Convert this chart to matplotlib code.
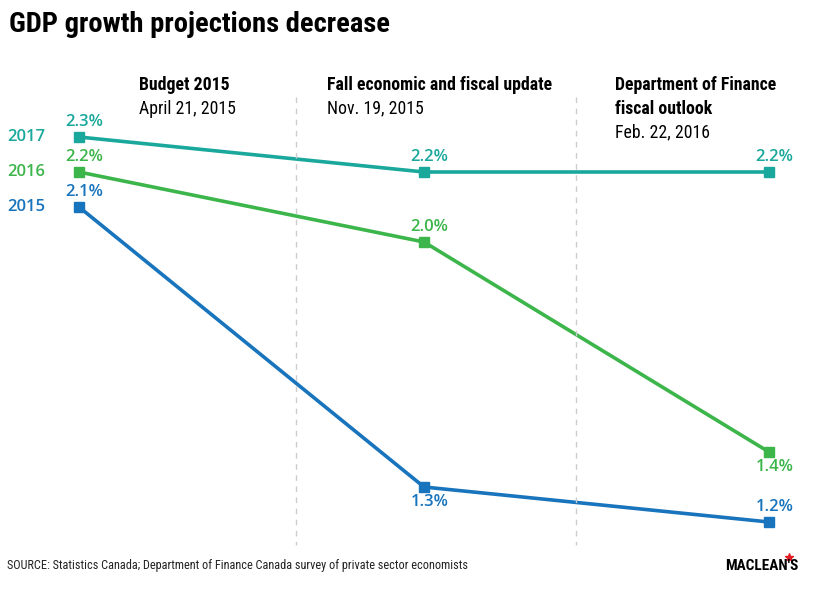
import matplotlib.pyplot as plt

COND = ["Roboto Condensed", "Liberation Sans Narrow", "DejaVu Sans"]
SANS = ["Open Sans", "DejaVu Sans"]

# Data
stages = [["Budget 2015"], ["Fall economic and fiscal update"], ["Department of Finance", "fiscal outlook"]]
dates = ["April 21, 2015", "Nov. 19, 2015", "Feb. 22, 2016"]
years = ["2017", "2016", "2015"]
gdp_2017 = [2.3, 2.2, 2.2]
gdp_2016 = [2.2, 2.0, 1.4]
gdp_2015 = [2.1, 1.3, 1.2]

colors = {"2017": "#19a89b", "2016": "#3cb54a", "2015": "#1874bc"}
series = {"2017": gdp_2017, "2016": gdp_2016, "2015": gdp_2015}
# label placement: +1 above the point, -1 below
label_side = {"2017": [1, 1, 1], "2016": [1, 1, -1], "2015": [1, -1, 1]}

W, H = 822, 597
fig = plt.figure(figsize=(W / 100, H / 100), dpi=100)
# axes spans first to last point horizontally, 1.2 to 2.3 vertically
ax = fig.add_axes([79 / W, (H - 522) / H, 690 / W, 385 / H])
ax.set_xlim(0, 2)
ax.set_ylim(1.2, 2.3)
ax.axis("off")

x = range(len(stages))
for yr in years:
    vals = series[yr]
    c = colors[yr]
    ax.plot(x, vals, color=c, linewidth=2.6, marker="s", markersize=6.5,
            clip_on=False, zorder=3)
    for xi, v, side in zip(x, vals, label_side[yr]):
        ax.annotate(f"{v:.1f}%", (xi, v), xytext=(4, 11 * side), textcoords="offset points",
                    ha="center", va="center", color=c, fontsize=12, fontweight=600,
                    family=SANS)
    ax.annotate(yr, (0, vals[0]), xytext=(-38, 0), textcoords="offset points",
                ha="center", va="center", color=c, fontsize=12, fontweight=600,
                family=SANS)

# dashed separators
for xs in [296, 576]:
    fig.add_artist(plt.Line2D([xs / W, xs / W], [1 - 97 / H, 1 - 545 / H],
                              color="#cccccc", linewidth=1, linestyle=(0, (4, 4))))

# column headers, one text per line
head_x = [139, 327, 615]
for hx, st, dt in zip(head_x, stages, dates):
    y = 85
    for line in st:
        fig.text(hx / W, 1 - y / H, line, family=COND, fontsize=12.8, fontweight="bold",
                 ha="left", va="center")
        y += 23.5
    fig.text(hx / W, 1 - y / H, dt, family=COND, fontsize=12.8, ha="left", va="center")

fig.text(9 / W, 1 - 25 / H, "GDP growth projections decrease", family=COND,
         fontsize=20.5, fontweight="bold", ha="left", va="center")
fig.text(7 / W, 1 - 566 / H,
         "SOURCE: Statistics Canada; Department of Finance Canada survey of private sector economists",
         family=COND, fontsize=8.8, color="#222222", ha="left", va="center")
fig.text(798 / W, 1 - 566 / H, "MACLEAN'S", family=COND, fontsize=11, fontweight="bold",
         ha="right", va="center")
# little red leaf over the apostrophe
fig.add_artist(plt.Line2D([789 / W], [1 - 557 / H], marker="*", color="#e31b23",
                          markersize=6, linestyle="none"))

fig.savefig("out.png", dpi=100)
